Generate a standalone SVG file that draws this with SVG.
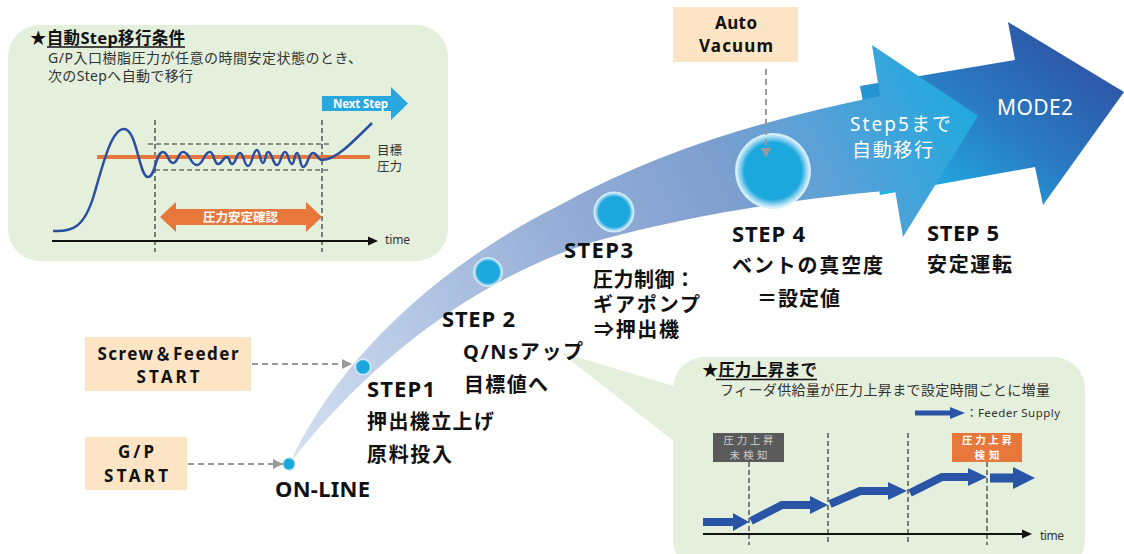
<svg xmlns="http://www.w3.org/2000/svg" width="1124" height="554" viewBox="0 0 1124 554">
<defs>
<style>
text{font-family:'Noto Sans','Noto Sans CJK JP',sans-serif;}
.b{font-weight:bold;}
.lbl{font-size:20px;font-weight:bold;fill:#111;}
.st{font-size:22px;}
.box{font-size:17px;font-weight:bold;fill:#111;text-anchor:middle;}
.peach{fill:#fde4c4;}
.green{fill:#e4efdc;}
.dash{stroke:#9a9a9a;stroke-width:2;stroke-dasharray:6,4;fill:none;}
.vd{stroke:#333;stroke-width:1.2;stroke-dasharray:5,3;fill:none;}
.blu{stroke:#2a55a7;stroke-width:8;fill:none;stroke-linejoin:miter;}
.bluf{fill:#2a55a7;}
.dot{fill:url(#dotg);stroke:#d6eff9;stroke-width:1;}
</style>
<linearGradient id="band" gradientUnits="userSpaceOnUse" x1="290" y1="463" x2="980" y2="110">
<stop offset="0" stop-color="#d5e1f1"/>
<stop offset="0.45" stop-color="#95add7"/>
<stop offset="0.66" stop-color="#7f9fcf"/>
<stop offset="0.82" stop-color="#52a1d8"/>
<stop offset="1" stop-color="#1eaadf"/>
</linearGradient>
<linearGradient id="arr2" gradientUnits="userSpaceOnUse" x1="930" y1="205" x2="1060" y2="30">
<stop offset="0" stop-color="#1fb0e4"/>
<stop offset="0.5" stop-color="#2a7ac3"/>
<stop offset="1" stop-color="#2d54a4"/>
</linearGradient>
<radialGradient id="dotg" cx="0.5" cy="0.5" r="0.5">
<stop offset="0" stop-color="#1da8dd"/>
<stop offset="0.76" stop-color="#1da8dd"/>
<stop offset="0.89" stop-color="#8fd3f0"/>
<stop offset="1" stop-color="#eef9fd"/>
</radialGradient>
<marker id="ga" viewBox="0 0 10 10" refX="10" refY="5" markerWidth="10" markerHeight="10" markerUnits="userSpaceOnUse" orient="auto">
<path d="M0,0 L10,5 L0,10 Z" fill="#9a9a9a"/>
</marker>
</defs>

<g id="flow">
<path d="M860,86 L1015,60 L1008,22 L1124,92 L1043,205 L1035,167 L880,195 Z" fill="url(#arr2)"/>
<path d="M290,463 C325,385 410,280 560,205 C660,150 770,118 880,96 L872,45 L978,116 L903,237 L895,190 C800,198 690,215 600,240 C480,275 370,360 290,463 Z" fill="url(#band)"/>
<text x="850" y="131" font-size="19" fill="#fff" textLength="101">Step5まで</text>
<text x="852" y="157" font-size="19" fill="#fff" textLength="81">自動移行</text>
<text x="997" y="115" font-size="21" fill="#fff" textLength="76">MODE2</text>
</g>

<g id="box-cond">
<rect class="green" x="8" y="25" width="440" height="236" rx="32"/>
<text x="30" y="44" font-size="16.5" class="b" fill="#111" textLength="155">★自動Step移行条件</text>
<line x1="47" y1="47" x2="185" y2="47" stroke="#111" stroke-width="1.3"/>
<text x="48" y="62.5" font-size="14" fill="#333" textLength="314">G/P入口樹脂圧力が任意の時間安定状態のとき、</text>
<text x="48" y="80.5" font-size="14" fill="#333" textLength="145">次のStepへ自動で移行</text>
<path d="M322,96 L391,96 L391,87 L408,103.5 L391,120 L391,111 L322,111 Z" fill="#29a7df"/>
<text x="333" y="108" font-size="11.5" class="b" fill="#fff" textLength="55">Next Step</text>
<line x1="155" y1="120" x2="155" y2="252" class="vd"/>
<line x1="322" y1="120" x2="322" y2="252" class="vd"/>
<line x1="148" y1="144" x2="330" y2="144" class="vd"/>
<line x1="155" y1="170" x2="330" y2="170" class="vd"/>
<line x1="97" y1="157" x2="370" y2="157" stroke="#e8773c" stroke-width="4"/>
<path d="M53,231 C72,232 84,228 94,195 C104,160 112,129 124,129 C137,129 139,177 148,177 C155.5,177 155.5,152 163,152 C168,152 168,163 173,163 C178,163 178,152 183,152 C190,152 190,165 197,165 C203.5,165 203.5,152 210,152 C214,152 214,164 218,164 C222.5,164 222.5,157 227,157 C229.5,157 229.5,164 232,164 C236,164 236,153 240,153 C244,153 244,166 248,166 C252.5,166 252.5,150 257,150 C260,150 260,163 263,163 C265.5,163 265.5,152 268,152 C272.5,152 272.5,165 277,165 C281,165 281,152 285,152 C288.5,152 288.5,164 292,164 C294.5,164 294.5,153 297,153 C300,153 300,167 303,167 C308,167 308,153 313,153 C317.5,153 317.5,160 322,160 C335,160 350,145 372,123" fill="none" stroke="#2a4fa0" stroke-width="2.5"/>
<text x="377" y="155" font-size="12.5" fill="#333">目標</text>
<text x="377" y="171" font-size="12.5" fill="#333">圧力</text>
<path d="M160,217 L176,202 L176,209 L306,209 L306,202 L322,217 L306,232 L306,225 L176,225 L176,232 Z" fill="#e8773c"/>
<text x="203" y="222" font-size="12.5" class="b" fill="#fff" textLength="75">圧力安定確認</text>
<line x1="52" y1="241" x2="370" y2="241" stroke="#111" stroke-width="2"/>
<path d="M378,241 L368,236.5 L368,245.5 Z" fill="#111"/>
<text x="385" y="244" font-size="12" fill="#333" textLength="25">time</text>
</g>

<g id="box-pressure">
<path class="green" d="M560,352 L680,388 L680,446 Z"/>
<rect class="green" x="673" y="357" width="412" height="215" rx="32"/>
<text x="702" y="376" font-size="16.5" class="b" fill="#111" textLength="115">★圧力上昇まで</text>
<line x1="716" y1="379.5" x2="817" y2="379.5" stroke="#111" stroke-width="1.3"/>
<text x="720" y="394.5" font-size="14" fill="#333" textLength="330">フィーダ供給量が圧力上昇まで設定時間ごとに増量</text>
<line x1="915" y1="413" x2="952" y2="413" stroke="#2a55a7" stroke-width="5"/>
<path d="M950,407 L965,413 L950,419 Z" class="bluf"/>
<text x="966" y="417" font-size="11.5" fill="#333" textLength="94">：Feeder Supply</text>
<rect x="713" y="433" width="71" height="29" fill="#5a5a5a"/>
<text x="748.5" y="444" font-size="10.5" fill="#cfcfcf" text-anchor="middle" textLength="50">圧力上昇</text>
<text x="748.5" y="459" font-size="10.5" fill="#cfcfcf" text-anchor="middle" textLength="38">未検知</text>
<rect x="952" y="433" width="70" height="29" fill="#e8773c"/>
<text x="987" y="444" font-size="10.5" class="b" fill="#fff" text-anchor="middle" textLength="50">圧力上昇</text>
<text x="987" y="459" font-size="10.5" class="b" fill="#fff" text-anchor="middle" textLength="25">検知</text>
<line x1="749" y1="462" x2="749" y2="545" class="vd"/>
<line x1="828" y1="433" x2="828" y2="545" class="vd"/>
<line x1="908" y1="433" x2="908" y2="545" class="vd"/>
<line x1="987" y1="462" x2="987" y2="545" class="vd"/>
<line x1="703" y1="522" x2="735" y2="522" class="blu"/>
<path d="M733,513 L749,522 L733,531 Z" class="bluf"/>
<polyline points="751,521 782,505 812,505" class="blu"/>
<path d="M810,496 L828,505 L810,514 Z" class="bluf"/>
<polyline points="830,504 860,491 890,491" class="blu"/>
<path d="M888,482 L907,491 L888,500 Z" class="bluf"/>
<polyline points="910,493 942,477 970,477" class="blu"/>
<path d="M968,468 L987,477 L968,486 Z" class="bluf"/>
<line x1="990" y1="478" x2="1015" y2="478" stroke="#2a55a7" stroke-width="9"/>
<path d="M1013,467 L1035,478 L1013,489 Z" class="bluf"/>
<line x1="703" y1="534" x2="1024" y2="534" stroke="#111" stroke-width="2"/>
<path d="M1032,534 L1022,529.5 L1022,538.5 Z" fill="#111"/>
<text x="1040" y="540" font-size="12" fill="#333" textLength="24">time</text>
</g>

<g id="node-screw">
<rect class="peach" x="85" y="337" width="166" height="54"/>
<text class="box" x="168" y="359.5" textLength="141">Screw＆Feeder</text>
<text class="box" x="168" y="382.5" textLength="63">START</text>
</g>
<g id="node-gp">
<rect class="peach" x="85" y="437" width="102" height="53"/>
<text class="box" x="136" y="457.5" textLength="36">G/P</text>
<text class="box" x="136" y="481.5" textLength="64">START</text>
</g>
<g id="node-vacuum">
<rect class="peach" x="673" y="7" width="125" height="55"/>
<text class="box" x="736" y="28.5" textLength="42">Auto</text>
<text class="box" x="736" y="52" textLength="74">Vacuum</text>
</g>

<g id="dots">
<circle class="dot" cx="289" cy="464" r="6.5"/>
<circle class="dot" cx="363" cy="367" r="8"/>
<circle class="dot" cx="488" cy="272" r="14.5"/>
<circle class="dot" cx="614" cy="212" r="20"/>
<circle class="dot" cx="773" cy="171" r="37.5"/>
</g>

<g id="connectors">
<line x1="252" y1="364" x2="352" y2="364" class="dash" marker-end="url(#ga)"/>
<line x1="188" y1="464" x2="283" y2="464" class="dash" marker-end="url(#ga)"/>
<line x1="766" y1="69" x2="766" y2="158" class="dash" marker-end="url(#ga)"/>
</g>

<g id="step-online"><text class="lbl st" x="275" y="497" textLength="95">ON-LINE</text></g>
<g id="step1">
<text class="lbl st" x="367" y="397" textLength="68">STEP1</text>
<text class="lbl" x="367" y="429" textLength="127">押出機立上げ</text>
<text class="lbl" x="367" y="462" textLength="85">原料投入</text>
</g>
<g id="step2">
<text class="lbl st" x="442" y="327" textLength="73">STEP 2</text>
<text class="lbl" x="463" y="359" textLength="120">Q/Nsアップ</text>
<text class="lbl" x="464" y="392" textLength="84">目標値へ</text>
</g>
<g id="step3">
<text class="lbl st" x="564" y="258" textLength="69">STEP3</text>
<text class="lbl" x="593" y="287" textLength="102">圧力制御：</text>
<text class="lbl" x="593" y="312" textLength="107">ギアポンプ</text>
<text class="lbl" x="594" y="337" textLength="85">⇒押出機</text>
</g>
<g id="step4">
<text class="lbl st" x="732" y="242" textLength="73">STEP 4</text>
<text class="lbl" x="732" y="273" textLength="151">ベントの真空度</text>
<text class="lbl" x="757" y="306" textLength="83">＝設定値</text>
</g>
<g id="step5">
<text class="lbl st" x="927" y="241" textLength="72">STEP 5</text>
<text class="lbl" x="927" y="272" textLength="85">安定運転</text>
</g>
</svg>
